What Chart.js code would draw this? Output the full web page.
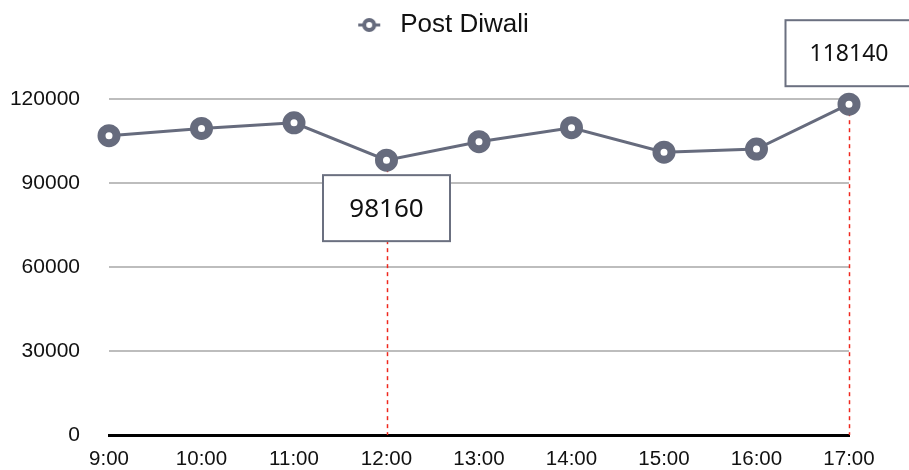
<!DOCTYPE html>
<html>
<head>
<meta charset="utf-8">
<script src="https://cdn.jsdelivr.net/npm/chart.js@4/dist/chart.umd.min.js"></script>
<style>
  html, body { margin: 0; padding: 0; background: #ffffff; }
  #wrap { width: 909px; height: 470px; }
  canvas { display: block; }
</style>
</head>
<body>
<div id="wrap"><canvas id="c" width="909" height="470"></canvas></div>
<script>
const categories = ['9:00', '10:00', '11:00', '12:00', '13:00', '14:00', '15:00', '16:00', '17:00'];
const seriesName = 'Post Diwali';
const postDiwali = [106900, 109500, 111500, 98160, 104750, 109750, 101000, 102100, 118140];
const yTickValues = [0, 30000, 60000, 90000, 120000];
const calloutIndices = [3, 8];
const calloutSides = ['below', 'above'];

const lineColor = '#666b7d';

// legend icon: line with hollow circle
const icon = document.createElement('canvas');
icon.width = 26; icon.height = 18;
(function () {
  const g = icon.getContext('2d');
  g.strokeStyle = lineColor;
  g.lineWidth = 3;
  g.beginPath(); g.moveTo(2, 9); g.lineTo(24, 9); g.stroke();
  g.beginPath(); g.arc(13, 9, 5, 0, Math.PI * 2);
  g.fillStyle = '#ffffff'; g.fill();
  g.lineWidth = 4; g.stroke();
})();

const legendSpacer = {
  id: 'legendSpacer',
  beforeLayout(chart) {
    const lg = chart.legend;
    if (lg && !lg._spacerPatched) {
      const proto = Object.getPrototypeOf(lg);
      lg.fit = function () { proto.fit.call(this); this.height = 99; };
      lg._spacerPatched = true;
    }
  },
  afterLayout(chart) {
    const lg = chart.legend;
    if (lg) { lg.left += 31; lg.width -= 31; }
  }
};

const calloutPlugin = {
  id: 'callouts',
  beforeDatasetsDraw(chart) {
    const ctx = chart.ctx;
    const meta = chart.getDatasetMeta(0);
    const bottom = chart.scales.y.getPixelForValue(0);
    ctx.save();
    ctx.strokeStyle = '#f0281e';
    ctx.lineWidth = 1.5;
    ctx.setLineDash([4, 4]);
    calloutIndices.forEach(i => {
      const p = meta.data[i];
      ctx.beginPath();
      ctx.moveTo(Math.round(p.x) + 0.5, p.y);
      ctx.lineTo(Math.round(p.x) + 0.5, bottom);
      ctx.stroke();
    });
    ctx.restore();
  },
  afterDatasetsDraw(chart) {
    const ctx = chart.ctx;
    const meta = chart.getDatasetMeta(0);
    const w = 127, h = 66;
    ctx.save();
    calloutIndices.forEach((i, k) => {
      const p = meta.data[i];
      const below = calloutSides[k] === 'below';
      const left = p.x - w / 2;
      const top = below ? p.y + 15 : p.y - 18 - h;
      ctx.fillStyle = '#ffffff';
      ctx.fillRect(left, top, w, h);
      ctx.strokeStyle = '#6b7080';
      ctx.lineWidth = 2;
      ctx.strokeRect(left, top, w, h);
      ctx.fillStyle = '#111111';
      ctx.font = (below ? 26 : 23) + 'px "Noto Sans"';
      ctx.textAlign = 'center';
      ctx.textBaseline = 'middle';
      ctx.fillText(String(postDiwali[i]), p.x, top + h / 2 + 1);
    });
    ctx.restore();
  }
};

new Chart(document.getElementById('c'), {
  type: 'line',
  data: {
    labels: categories,
    datasets: [{
      label: seriesName,
      data: postDiwali,
      borderColor: lineColor,
      borderWidth: 3,
      backgroundColor: '#ffffff',
      pointBackgroundColor: '#ffffff',
      pointBorderColor: lineColor,
      pointRadius: 7.5,
      pointBorderWidth: 8,
      pointHoverRadius: 7.5,
      tension: 0,
      clip: false
    }]
  },
  options: {
    responsive: false,
    animation: false,
    layout: { padding: { top: 0, right: 60, bottom: 0, left: 0 } },
    plugins: {
      legend: {
        display: true,
        position: 'top',
        labels: {
          usePointStyle: true,
          pointStyleWidth: 36,
          padding: 12,
          color: '#111111',
          font: { family: '"Liberation Sans", Arial, sans-serif', size: 26 },
          generateLabels: (chart) => [{
            text: seriesName,
            pointStyle: icon,
            fillStyle: '#ffffff',
            strokeStyle: lineColor,
            lineWidth: 0,
            hidden: false,
            datasetIndex: 0,
            fontColor: '#111111'
          }]
        }
      },
      tooltip: { enabled: false }
    },
    scales: {
      x: {
        offset: false,
        grid: { display: false, drawTicks: false },
        border: { display: true, color: '#000000', width: 3 },
        ticks: {
          color: '#111111',
          padding: 12,
          maxRotation: 0,
          font: { family: '"Liberation Sans", Arial, sans-serif', size: 20.5 }
        },
        afterFit: (s) => { s.height = 35; }
      },
      y: {
        min: 0,
        max: 120000,
        grid: { color: '#bdbdbd', lineWidth: 2, drawTicks: false },
        border: { display: false },
        afterBuildTicks: (s) => { s.ticks = yTickValues.map(v => ({ value: v })); },
        ticks: {
          color: '#111111',
          padding: 29,
          callback: (v) => String(v),
          font: { family: '"Liberation Sans", Arial, sans-serif', size: 21 }
        },
        afterFit: (s) => { s.width = 109; s.paddingTop = 12; s.paddingBottom = 12; }
      }
    }
  },
  plugins: [legendSpacer, calloutPlugin]
});
</script>
</body>
</html>
